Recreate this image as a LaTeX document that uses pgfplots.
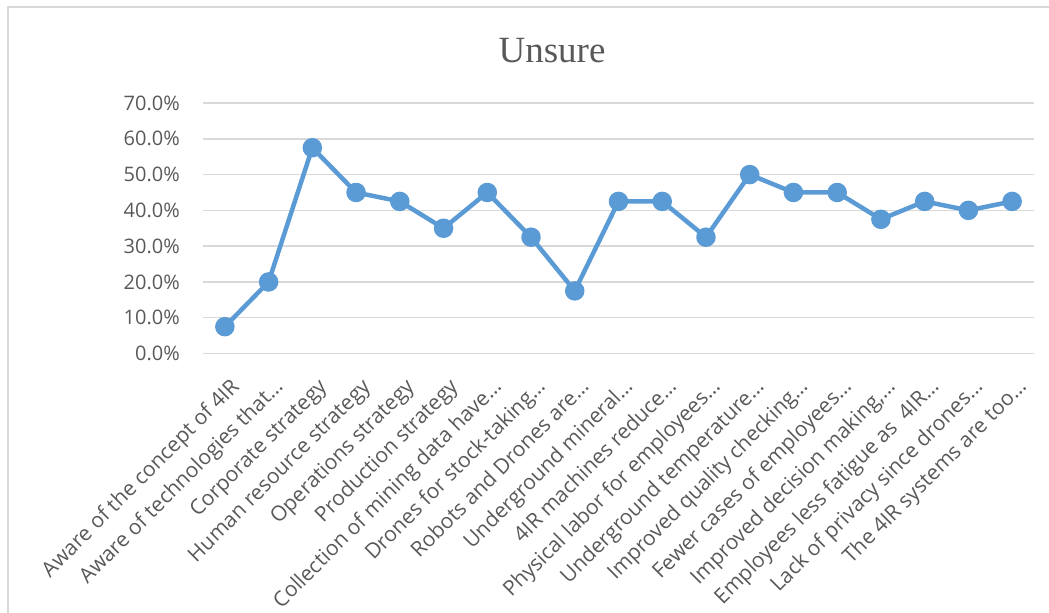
\documentclass[border=0pt]{standalone}
\usepackage{fontspec}
\setmainfont{Open Sans}
\newfontfamily\titlefont{Liberation Serif}
\usepackage{pgfplots}
\pgfplotsset{compat=1.18}
\definecolor{txt}{HTML}{595959}
\definecolor{gridc}{HTML}{D9D9D9}
\definecolor{series}{HTML}{5B9BD5}

% Share of "unsure" answers per survey item (percent)
\pgfplotstableread{
idx value
0  7.5
1  20.0
2  57.5
3  45.0
4  42.5
5  35.0
6  45.0
7  32.5
8  17.5
9  42.5
10 42.5
11 32.5
12 50.0
13 45.0
14 45.0
15 37.5
16 42.5
17 40.0
18 42.5
}\unsure

\begin{document}
\begin{tikzpicture}
\path[use as bounding box] (0,0) rectangle (1049bp,-613bp);
% chart frame
\draw[gridc, line width=1.5bp] (8bp,-613bp) -- (8bp,-7bp) -- (1049bp,-7bp);
% title
\node[txt, font=\titlefont\fontsize{37bp}{40bp}\selectfont, anchor=base, inner sep=0pt]
  at (552bp,-62bp) {Unsure};
\begin{axis}[
  at={(203bp,-353.5bp)}, anchor=south west,
  scale only axis, width=831bp, height=250.5bp,
  xmin=-0.5, xmax=18.5, ymin=0, ymax=70,
  axis line style={draw=none},
  major tick length=0pt,
  ytick={0,10,...,70},
  ymajorgrids,
  grid style={gridc, line width=1.5bp},
  tick label style={txt, font=\fontsize{20bp}{24bp}\selectfont},
  /pgf/number format/assume math mode=true,
  yticklabel={\pgfmathprintnumber[fixed,fixed zerofill,precision=1]{\tick}\%},
  yticklabel style={anchor=east, inner sep=0pt, xshift=-23bp},
  xtick={0,...,18},
  xticklabels={
    Aware of the concept of 4IR,
    Aware of technologies that…,
    Corporate strategy,
    Human resource strategy,
    Operations strategy,
    Production strategy,
    Collection of mining data have…,
    Drones for stock-taking…,
    Robots and Drones are…,
    Underground mineral…,
    4IR machines reduce…,
    Physical labor for employees…,
    Underground temperature…,
    Improved quality checking…,
    Fewer cases of employees…,
    {Improved decision making,…},
    Employees less fatigue as\ \ 4IR…,
    Lack of privacy since drones…,
    The 4IR systems are too…},
  xticklabel style={font=\fontsize{21bp}{25bp}\selectfont,
    xshift=4bp, yshift=-23bp, rotate=45, anchor=north east,
    inner sep=0pt, text height=16bp, text depth=5bp},
  clip=false,
]
\addplot[series, line width=4.5bp, line join=round,
  mark=*, mark size=7.5bp, mark options={fill=series, draw=none}]
  table[x=idx, y=value] {\unsure};
\end{axis}
\end{tikzpicture}
\end{document}
